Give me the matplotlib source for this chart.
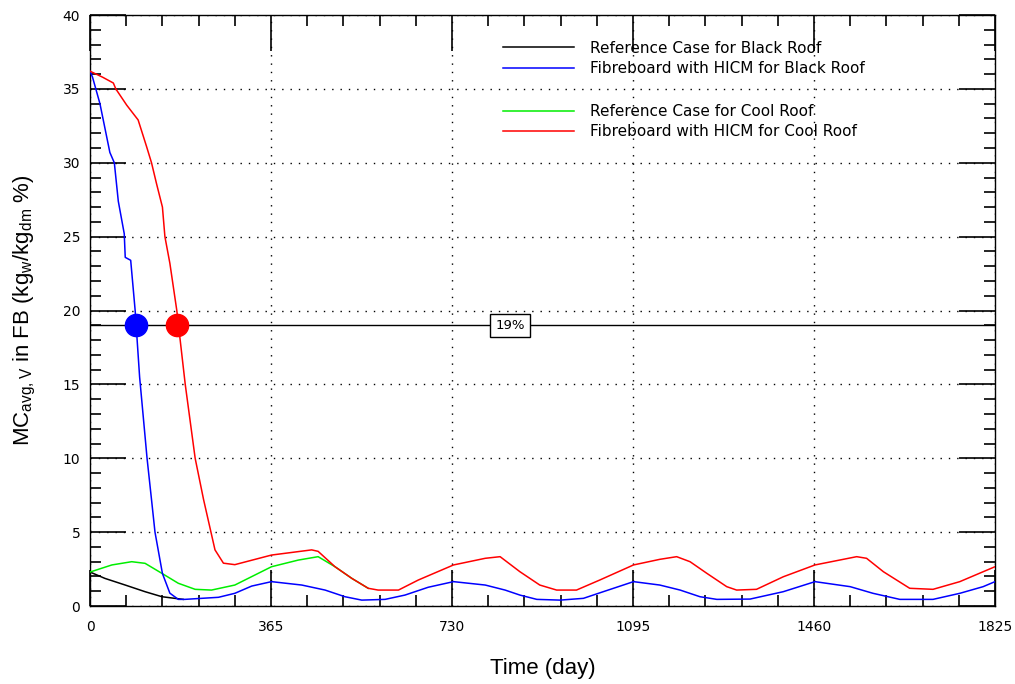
import matplotlib
matplotlib.use("Agg")
import matplotlib.pyplot as plt
from matplotlib.ticker import MultipleLocator

plt.rcParams['font.family'] = ['DejaVu Sans']
plt.rcParams['mathtext.fontset'] = 'custom'
plt.rcParams['mathtext.rm'] = 'Liberation Sans'
plt.rcParams['mathtext.default'] = 'rm'

# moisture content (kg_w/kg_dm %) vs time (day)
black_day = [0, 30, 71, 111, 145, 171, 188]
black_mc = [2.3, 1.87, 1.42, 0.97, 0.63, 0.52, 0.45]

blue_day = [0, 5, 20, 40, 49, 57, 69, 71, 82, 91, 93, 100, 115, 124, 131, 146, 161, 178,
            191, 259, 292, 326, 366, 427, 474, 514, 548, 595, 635, 682, 733, 797, 837,
            867, 901, 948, 995, 1035, 1096, 1149, 1190, 1230, 1264, 1331, 1398, 1462,
            1533, 1579, 1633, 1700, 1754, 1801, 1825]
blue_mc = [36.2, 35.8, 34.0, 30.7, 30.0, 27.4, 25.2, 23.6, 23.4, 20.0, 19.0, 15.5, 10.0,
           7.2, 5.0, 2.2, 0.87, 0.45, 0.45, 0.59, 0.86, 1.35, 1.65, 1.42, 1.08, 0.63, 0.40,
           0.45, 0.74, 1.27, 1.65, 1.42, 1.08, 0.74, 0.45, 0.40, 0.52, 0.97, 1.65, 1.42,
           1.08, 0.63, 0.45, 0.47, 0.97, 1.65, 1.31, 0.86, 0.45, 0.45, 0.86, 1.31, 1.65]

green_day = [0, 44, 84, 111, 145, 178, 212, 245, 292, 366, 420, 460, 494, 528, 561]
green_mc = [2.3, 2.78, 3.0, 2.89, 2.21, 1.54, 1.13, 1.08, 1.42, 2.66, 3.11, 3.34, 2.66,
            1.87, 1.2]

red_day = [0, 25, 47, 52, 74, 97, 114, 124, 134, 146, 151, 161, 168, 175, 192, 212, 229,
           252, 269, 292, 366, 447, 460, 494, 528, 561, 581, 622, 662, 733, 797, 827, 867,
           907, 941, 981, 1028, 1096, 1149, 1183, 1210, 1244, 1284, 1304, 1344, 1398,
           1462, 1546, 1566, 1600, 1653, 1700, 1754, 1801, 1825]
red_mc = [36.2, 35.8, 35.4, 35.0, 33.9, 32.9, 31.1, 30.0, 28.6, 27.0, 25.0, 23.2, 21.6,
          20.0, 15.0, 10.0, 7.2, 3.8, 2.9, 2.8, 3.45, 3.8, 3.7, 2.66, 1.87, 1.2, 1.08,
          1.08, 1.76, 2.78, 3.23, 3.34, 2.32, 1.42, 1.08, 1.08, 1.76, 2.78, 3.16, 3.34,
          3.0, 2.21, 1.31, 1.08, 1.13, 1.98, 2.78, 3.34, 3.23, 2.32, 1.2, 1.13, 1.65,
          2.32, 2.66]

threshold = 19
cross_day = [93, 176]  # days at which each fibreboard reaches 19 %
cross_color = ['#0000ff', '#ff0000']

labels = ['Reference Case for Black Roof', 'Fibreboard with HICM for Black Roof',
          'Reference Case for Cool Roof', 'Fibreboard with HICM for Cool Roof']

fig = plt.figure(figsize=(10.15, 6.84), dpi=100)
ax = fig.add_axes([0.0887, 0.114, 0.8916, 0.864])

l1, = ax.plot(black_day, black_mc, color='black', lw=1.1, zorder=3)
l3, = ax.plot(green_day, green_mc, color='#00ee00', lw=1.1, zorder=3)
l2, = ax.plot(blue_day, blue_mc, color='#0000ff', lw=1.1, zorder=4)
l4, = ax.plot(red_day, red_mc, color='#ff0000', lw=1.1, zorder=4)

ax.axhline(threshold, color='black', lw=1.0, zorder=2)
for d, c in zip(cross_day, cross_color):
    ax.plot(d, threshold, 'o', ms=16, color=c, zorder=5)
ax.text(847, threshold, '19%', ha='center', va='center', fontsize=9.5, zorder=6,
        bbox=dict(boxstyle='square,pad=0.4', fc='white', ec='black', lw=1))

ax.set_xlim(0, 1825)
ax.set_ylim(0, 40)
ax.xaxis.set_major_locator(MultipleLocator(365))
ax.xaxis.set_minor_locator(MultipleLocator(73))
ax.yaxis.set_major_locator(MultipleLocator(5))
ax.yaxis.set_minor_locator(MultipleLocator(1))
ax.grid(True, which='major', color='black', ls=(0, (1, 5)), lw=1.0)
ax.tick_params(which='both', direction='in', top=True, right=True, width=1.2,
               labelsize=10)
ax.tick_params(which='major', length=26)
ax.tick_params(which='minor', length=8)
ax.tick_params(axis='x', pad=10)
ax.tick_params(axis='y', pad=7)
for s in ax.spines.values():
    s.set_linewidth(1.0)

ax.set_xlabel('Time (day)', fontsize=16, family='Liberation Sans', labelpad=17)
ax.set_ylabel('MC$_{avg,V}$ in FB (kg$_w$/kg$_{dm}$ %)', fontsize=16,
              family='Liberation Sans', labelpad=18)

leg_kw = dict(loc='upper left', frameon=False, fontsize=11, handlelength=4.6,
              handletextpad=1.1, labelspacing=0.35, borderaxespad=0)
leg1 = ax.legend([l1, l2], labels[:2], bbox_to_anchor=(0.45, 0.967), **leg_kw)
ax.add_artist(leg1)
ax.legend([l3, l4], labels[2:], bbox_to_anchor=(0.45, 0.86), **leg_kw)

fig.savefig('out.png', dpi=100)
